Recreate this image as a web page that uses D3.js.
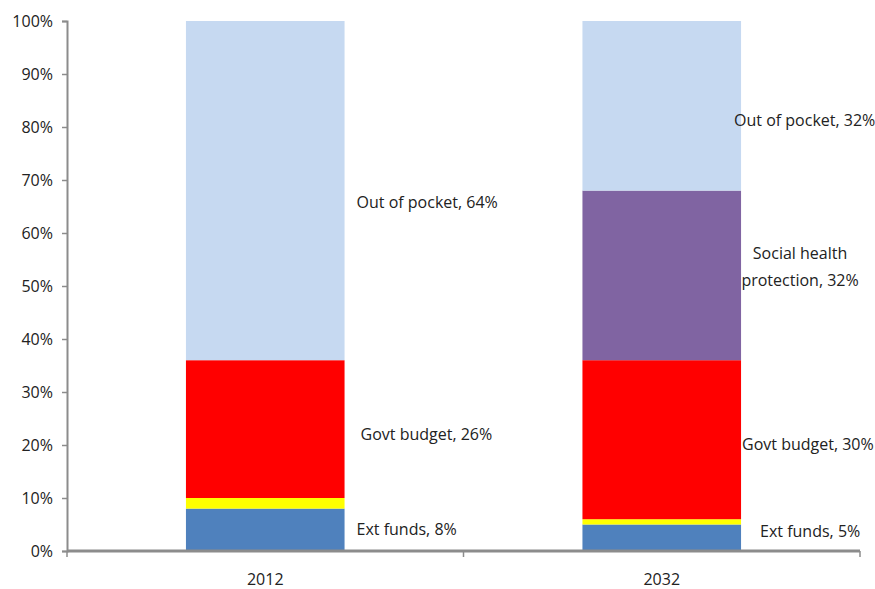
<!DOCTYPE html>
<html>
<head>
<meta charset="utf-8">
<script src="https://cdn.jsdelivr.net/npm/d3@7"></script>
<style>
  body { margin: 0; background: #fff; }
  text { font-family: "Open Sans", sans-serif; }
</style>
</head>
<body>
<div id="chart"></div>
<script>
// categories and series (percent of total)
var years = ["2012", "2032"];
var series = ["Ext funds", "Other", "Govt budget", "Social health protection", "Out of pocket"];
var values2012 = [8, 2, 26, 0, 64];
var values2032 = [5, 1, 30, 32, 32];
var yTicks = [0, 10, 20, 30, 40, 50, 60, 70, 80, 90, 100];

// data labels shown next to bars
var labels2012 = [["Ext funds, 8%"], null, ["Govt budget, 26%"], null, ["Out of pocket, 64%"]];
var labels2032 = [["Ext funds, 5%"], null, ["Govt budget, 30%"], ["Social health", "protection, 32%"], ["Out of pocket, 32%"]];

var colors = ["#4f81bd", "#ffff00", "#ff0000", "#8064a2", "#c6d9f1"];

// set the dimensions and margins of the graph
var margin = {top: 21, right: 15, bottom: 38, left: 67},
    width = 875 - margin.left - margin.right,
    height = 589 - margin.top - margin.bottom;

var svg = d3.select("#chart")
  .append("svg")
    .attr("width", 875)
    .attr("height", 589)
  .append("g")
    .attr("transform", "translate(" + margin.left + "," + margin.top + ")");

var x = d3.scaleBand()
  .domain(years)
  .range([0, width])
  .paddingInner(0.6)
  .paddingOuter(0.3);

var y = d3.scaleLinear()
  .domain([0, 100])
  .range([height, 0]);

// build stacked rows
var rows = [values2012, values2032].map(function(v, i) {
  var row = {year: years[i]};
  series.forEach(function(s, j) { row[s] = v[j]; });
  return row;
});
var stacked = d3.stack().keys(series)(rows);

svg.append("g")
  .selectAll("g")
  .data(stacked)
  .enter().append("g")
    .attr("fill", function(d, i) { return colors[i]; })
  .selectAll("rect")
  .data(function(d) { return d; })
  .enter().append("rect")
    .attr("x", function(d) { return x(d.data.year); })
    .attr("y", function(d) { return y(d[1]); })
    .attr("width", x.bandwidth())
    .attr("height", function(d) { return y(d[0]) - y(d[1]); });

// Y axis
var yAxis = svg.append("g")
  .call(d3.axisLeft(y).tickValues(yTicks).tickSize(5).tickPadding(9)
    .tickFormat(function(d) { return d + "%"; }));
yAxis.select(".domain").attr("stroke", "#8c8c8c").attr("stroke-width", 2);
yAxis.selectAll(".tick line").attr("stroke", "#8c8c8c").attr("stroke-width", 1.5);
yAxis.selectAll("text").attr("font-size", 16).attr("fill", "#222");

// X axis with category separators
var xAxis = svg.append("g")
  .attr("transform", "translate(0," + height + ")");
xAxis.append("line")
  .attr("x1", 0).attr("x2", width)
  .attr("stroke", "#8c8c8c").attr("stroke-width", 3);
xAxis.selectAll(".sep")
  .data([0, width / 2, width])
  .enter().append("line")
    .attr("x1", function(d) { return d; })
    .attr("x2", function(d) { return d; })
    .attr("y1", 0).attr("y2", 6)
    .attr("stroke", "#8c8c8c").attr("stroke-width", 1.5);
xAxis.selectAll(".cat")
  .data(years)
  .enter().append("text")
    .attr("x", function(d) { return x(d) + x.bandwidth() / 2; })
    .attr("y", 34)
    .attr("text-anchor", "middle")
    .attr("font-size", 16)
    .attr("fill", "#222")
    .text(function(d) { return d; });

// data labels
var labelNudge = {
  "2012": [[12, 0], null, [16, 5], null, [12, 12]],
  "2032": [[19, -6], null, [1, 5], [59, -12], [-7, 15]]
};
var labelAnchor = {"2012": ["start", null, "start", null, "start"],
                   "2032": ["start", null, "start", "middle", "start"]};

[labels2012, labels2032].forEach(function(labs, i) {
  var yr = years[i];
  labs.forEach(function(lines, j) {
    if (!lines) return;
    var seg = stacked[j][i];
    var nudge = labelNudge[yr][j];
    var cx = x(yr) + x.bandwidth() + nudge[0];
    var cy = (y(seg[0]) + y(seg[1])) / 2 + nudge[1];
    var t = svg.append("text")
      .attr("x", cx)
      .attr("y", cy)
      .attr("text-anchor", labelAnchor[yr][j])
      .attr("font-size", 16)
      .attr("fill", "#222");
    lines.forEach(function(line, k) {
      t.append("tspan")
        .attr("x", cx)
        .attr("dy", k === 0 ? (0.35 - (lines.length - 1) * 0.6) + "em" : "1.65em")
        .text(line);
    });
  });
});
</script>
</body>
</html>
